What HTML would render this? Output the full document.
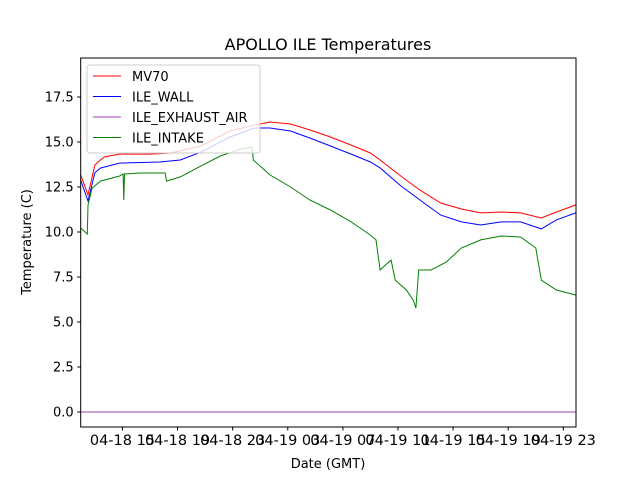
<!DOCTYPE html>
<html><head><meta charset="utf-8"><style>
body{margin:0;background:#fff;font-family:"Liberation Sans",sans-serif}
text{font-family:"DejaVu Sans","Liberation Sans",sans-serif}
</style></head><body>
<svg id="c" width="640" height="480" xmlns="http://www.w3.org/2000/svg">
<rect width="640" height="480" fill="#fff"/>
<text x="328" y="50" text-anchor="middle" font-size="16">APOLLO ILE Temperatures</text>
<text x="328" y="468" text-anchor="middle" font-size="13">Date (GMT)</text>
<text transform="translate(31,242) rotate(-90)" text-anchor="middle" font-size="13">Temperature (C)</text>
<g id="plot"></g>
</svg>
<script>
const mvT=[11.97,12.5,13.0,13.4,13.7,14.8,17.0,18.5,20.7,22.8,24.6,25.7,27.2,28.6,30.1,31.6,33.0,33.7,35.2,36.6,38.1,39.6,41.0,42.5,43.9,45.4,46.5,47.9];
const mvV=[13.17,12.06,13.72,14.0,14.17,14.33,14.33,14.39,14.78,15.61,15.94,16.11,16.0,15.67,15.28,14.83,14.39,14.0,13.11,12.33,11.61,11.28,11.06,11.11,11.06,10.78,11.11,11.5];
const wallT=[11.97,12.5,13.0,13.4,13.7,14.8,17.7,19.2,20.7,22.8,24.6,25.7,27.2,28.6,30.1,31.6,33.0,33.7,35.2,36.6,38.1,39.6,41.0,42.5,43.9,45.4,46.5,47.9];
const wallV=[12.89,11.72,13.3,13.55,13.61,13.83,13.89,14.0,14.44,15.28,15.78,15.78,15.61,15.22,14.78,14.33,13.89,13.56,12.56,11.78,10.94,10.56,10.39,10.56,10.56,10.17,10.67,11.06];
const exhT=[11.97,47.9];
const exhV=[0,0];
const inT=[11.97,12.45,12.5,12.8,13.4,14.8,15.05,15.1,15.15,16.3,18.1,18.2,19.2,20.7,22.1,23.6,24.4,24.5,25.7,27.2,28.6,30.1,31.6,33.0,33.4,33.7,34.1,34.5,34.8,35.6,36.1,36.3,36.5,37.4,38.5,39.6,41.0,42.5,43.9,45.0,45.4,46.5,47.9];
const inV=[10.22,9.89,11.5,12.44,12.83,13.11,13.22,11.78,13.22,13.28,13.28,12.83,13.06,13.67,14.22,14.61,14.72,14.0,13.17,12.5,11.78,11.22,10.56,9.83,9.56,7.89,8.17,8.44,7.33,6.78,6.22,5.78,7.89,7.89,8.33,9.11,9.56,9.78,9.72,9.11,7.33,6.78,6.5];
const yTicks=[0,2.5,5,7.5,10,12.5,15,17.5];
const xTickH=[15,19,23,27,31,35,39,43,47];
const xTickLabels=["04-18 15","04-18 19","04-18 23","04-19 03","04-19 07","04-19 11","04-19 15","04-19 19","04-19 23"];
const L=80.7,R=576,T=58,B=427;
const xs=h=>L+(h-11.97)/(47.92-11.97)*(R-L);
const ys=v=>412-18*v;
const NS="http://www.w3.org/2000/svg";
const g=document.getElementById('plot');
function mk(tag,a){const e=document.createElementNS(NS,tag);for(const k in a)e.setAttribute(k,a[k]);g.appendChild(e);return e;}
function series(t,v,color,name){
 const d=t.map((h,i)=>(i?'L':'M')+xs(h).toFixed(1)+' '+ys(v[i]).toFixed(1)).join(' ');
 const p=mk('path',{d:d,fill:'none',stroke:color,'stroke-width':1});
 
 
}
series(mvT,mvV,'#ff0000','mv70-line');
series(wallT,wallV,'#0000ff','ile-wall-line');
series(exhT,exhV,'#a040b0','ile-exhaust-air-line');
series(inT,inV,'#008000','ile-intake-line');
const fr=mk('rect',{x:L,y:T,width:R-L,height:B-T,fill:'none',stroke:'#000','stroke-width':1});


yTicks.forEach(v=>{
 const y=ys(v);
 mk('line',{x1:L-3.5,x2:L,y1:y,y2:y,stroke:'#000'});
 const t=mk('text',{x:L-7,y:y+4.5,'text-anchor':'end','font-size':13});
 t.textContent=v.toFixed(1);
 
 
});
xTickH.forEach((h,i)=>{
 const x=xs(h);
 mk('line',{x1:x,x2:x,y1:B,y2:B+3.5,stroke:'#000'});
 const t=mk('text',{x:x,y:B+18,'text-anchor':'middle','font-size':14.5});
 t.textContent=xTickLabels[i];
 
 
});
const lg=mk('rect',{x:87,y:65,width:173,height:88,rx:3,fill:'#fff','fill-opacity':0.8,stroke:'#ccc'});


[['MV70','#ff0000'],['ILE_WALL','#0000ff'],['ILE_EXHAUST_AIR','#a040b0'],['ILE_INTAKE','#008000']].forEach((e,i)=>{
 const y=76+i*20.5;
 mk('line',{x1:93,x2:121,y1:y,y2:y,stroke:e[1],'stroke-width':1});
 const t=mk('text',{x:132,y:y+5,'font-size':13});
 t.textContent=e[0];
 
 
});
</script>
</body></html>
